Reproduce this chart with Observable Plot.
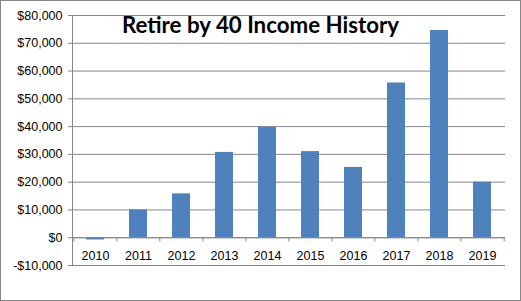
<!DOCTYPE html>
<html>
<head>
<meta charset="utf-8">
<script src="https://cdn.jsdelivr.net/npm/d3@7"></script>
<script src="https://cdn.jsdelivr.net/npm/@observablehq/plot@0.6"></script>
<style>
  html, body { margin: 0; padding: 0; background: #fff; }
  #wrap { position: relative; width: 521px; height: 301px; overflow: hidden; background: #fff; }
  #wrap svg { position: absolute; left: 0; top: 0; }
  #title { position: absolute; left: 0; top: 11px; width: 521px; text-align: center;
           font: bold 22.3px "Lato", "Open Sans", sans-serif; color: #000; z-index: 2; }
  #border { position: absolute; inset: 0; border: 1px solid #868686; pointer-events: none; z-index: 3; }
</style>
</head>
<body>
<div id="wrap"><div id="title"></div><div id="border"></div></div>
<script>
const years = ["2010","2011","2012","2013","2014","2015","2016","2017","2018","2019"];
const income = [-800, 10000, 15800, 30700, 39800, 31000, 25300, 55700, 74600, 20000];
const yTicks = [-10000, 0, 10000, 20000, 30000, 40000, 50000, 60000, 70000, 80000];
const title = "Retire by 40 Income History";

const data = years.map((y, i) => ({year: y, value: income[i]}));
document.getElementById("title").textContent = title;

const W = 521, H = 301, ML = 72, MR = 16;
const step = (W - ML - MR) / years.length;
const fmt = d => (d < 0 ? "-" : "") + "$" + d3.format(",")(Math.abs(d));
const grey = "#868686";

const chart = Plot.plot({
  width: W,
  height: H,
  marginLeft: ML,
  marginRight: MR,
  marginTop: 15,
  marginBottom: 36,
  style: {fontFamily: "'Liberation Sans', Arial, sans-serif", fontSize: "12px", color: "#000", background: "transparent"},
  x: {domain: years, paddingInner: 0.58, paddingOuter: 0.29, axis: null},
  y: {domain: [-10000, 80000], axis: null},
  marks: [
    Plot.ruleY(yTicks, {stroke: grey, strokeWidth: 1}),
    Plot.frame({anchor: "left", stroke: grey}),
    Plot.axisY(yTicks, {tickSize: 4, tickPadding: 6, tickFormat: fmt, stroke: grey, fill: "#000", fontSize: 12.5, label: null}),
    Plot.barY(data, {x: "year", y: "value", fill: "#4F81BD"}),
    Plot.ruleY([0], {stroke: grey}),
    Plot.ruleX(years, {x: d => d, y1: 0, y2: -1500, dx: -step / 2, stroke: grey}),
    Plot.ruleX([years[years.length - 1]], {x: d => d, y1: 0, y2: -1500, dx: step / 2, stroke: grey}),
    Plot.text(years, {x: d => d, y: 0, dy: 18, text: d => d, fill: "#000", fontSize: 12.5})
  ]
});
document.getElementById("wrap").appendChild(chart);
</script>
</body>
</html>
